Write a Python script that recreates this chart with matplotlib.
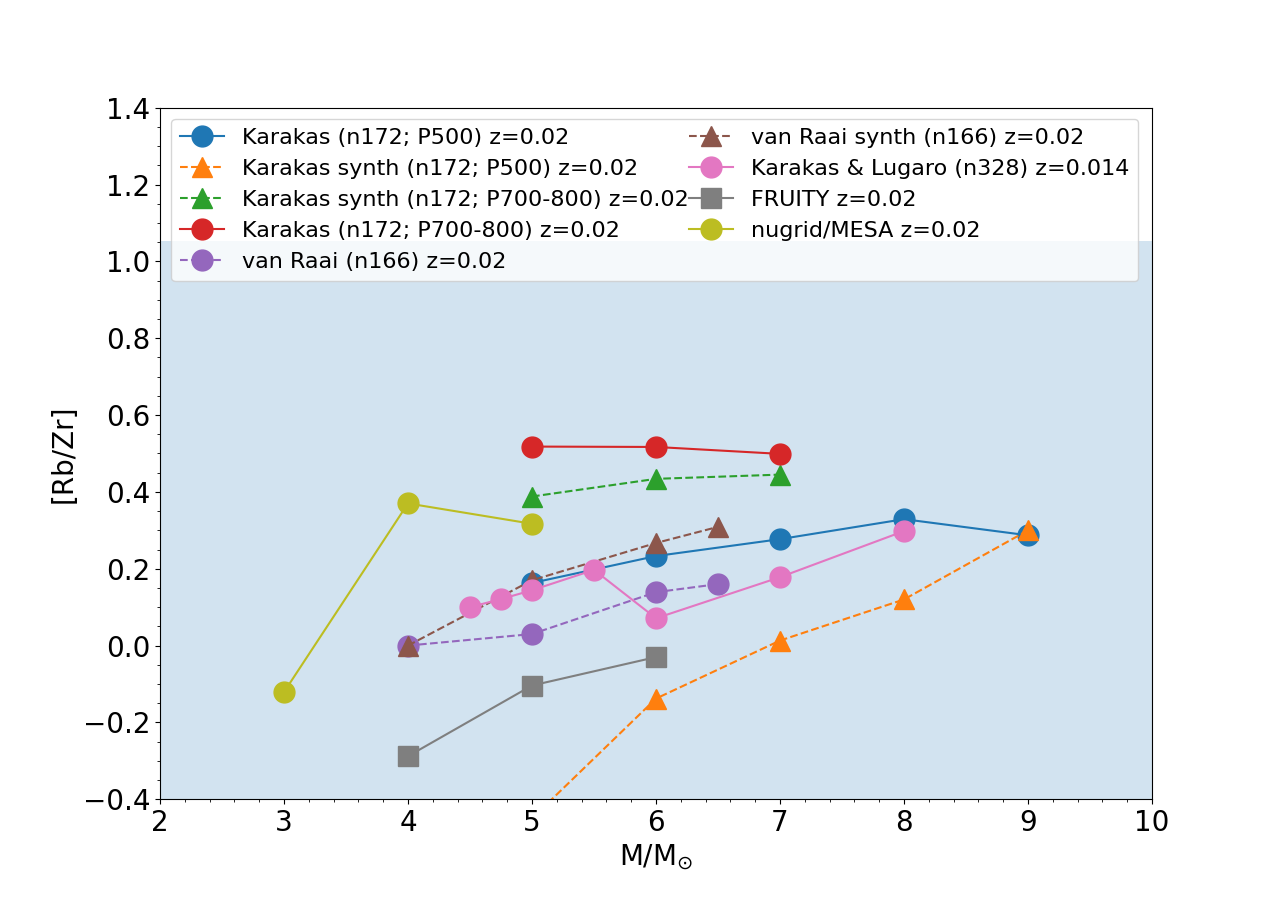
import numpy as np
import matplotlib
matplotlib.use("Agg")
import matplotlib.pyplot as plt

# [Rb/Zr] vs initial mass for the different model sets
m_k500 = [5, 6, 7, 8, 9]
rbzr_k500 = [0.163, 0.233, 0.277, 0.329, 0.287]

m_ks500 = [5, 6, 7, 8, 9]
rbzr_ks500 = [-0.45, -0.138, 0.013, 0.12, 0.30]

m_ks700 = [5, 6, 7]
rbzr_ks700 = [0.388, 0.434, 0.445]

m_k700 = [5, 6, 7]
rbzr_k700 = [0.518, 0.517, 0.499]

m_vr = [4, 5, 6, 6.5]
rbzr_vr = [0.0, 0.03, 0.139, 0.16]

m_vrs = [4, 5, 6, 6.5]
rbzr_vrs = [0.0, 0.17, 0.267, 0.309]

m_kl = [4.5, 4.75, 5, 5.5, 6, 7, 8]
rbzr_kl = [0.1, 0.121, 0.144, 0.197, 0.071, 0.178, 0.298]

m_fruity = [4, 5, 6]
rbzr_fruity = [-0.288, -0.104, -0.03]

m_mesa = [3, 4, 5]
rbzr_mesa = [-0.121, 0.37, 0.317]

ms = 15

fig = plt.figure(figsize=(12.8, 8.98), dpi=100)
ax = fig.add_subplot(111)

ax.axhspan(-0.4, 1.052, color='tab:blue', alpha=0.2, lw=0, zorder=0)

ax.plot(m_k500, rbzr_k500, 'o-', color='C0', ms=ms, label='Karakas (n172; P500) z=0.02')
ax.plot(m_ks500, rbzr_ks500, '^--', color='C1', ms=ms, label='Karakas synth (n172; P500) z=0.02')
ax.plot(m_ks700, rbzr_ks700, '^--', color='C2', ms=ms, label='Karakas synth (n172; P700-800) z=0.02')
ax.plot(m_k700, rbzr_k700, 'o-', color='C3', ms=ms, label='Karakas (n172; P700-800) z=0.02')
ax.plot(m_vr, rbzr_vr, 'o--', color='C4', ms=ms, label='van Raai (n166) z=0.02')
ax.plot(m_vrs, rbzr_vrs, '^--', color='C5', ms=ms, label='van Raai synth (n166) z=0.02')
ax.plot(m_kl, rbzr_kl, 'o-', color='C6', ms=ms, label='Karakas & Lugaro (n328) z=0.014')
ax.plot(m_fruity, rbzr_fruity, 's-', color='C7', ms=ms, label='FRUITY z=0.02')
ax.plot(m_mesa, rbzr_mesa, 'o-', color='C8', ms=ms, label='nugrid/MESA z=0.02')

ax.set_xlim(2, 10)
ax.set_ylim(-0.4, 1.4)
ax.minorticks_on()
ax.tick_params(labelsize=20)
ax.set_xlabel(r'M/M$_{\odot}$', fontsize=20)
ax.set_ylabel('[Rb/Zr]', fontsize=20)
ax.legend(loc='upper left', ncol=2, fontsize=16, columnspacing=0)

plt.savefig('out.png', dpi=100)
plt.close()
